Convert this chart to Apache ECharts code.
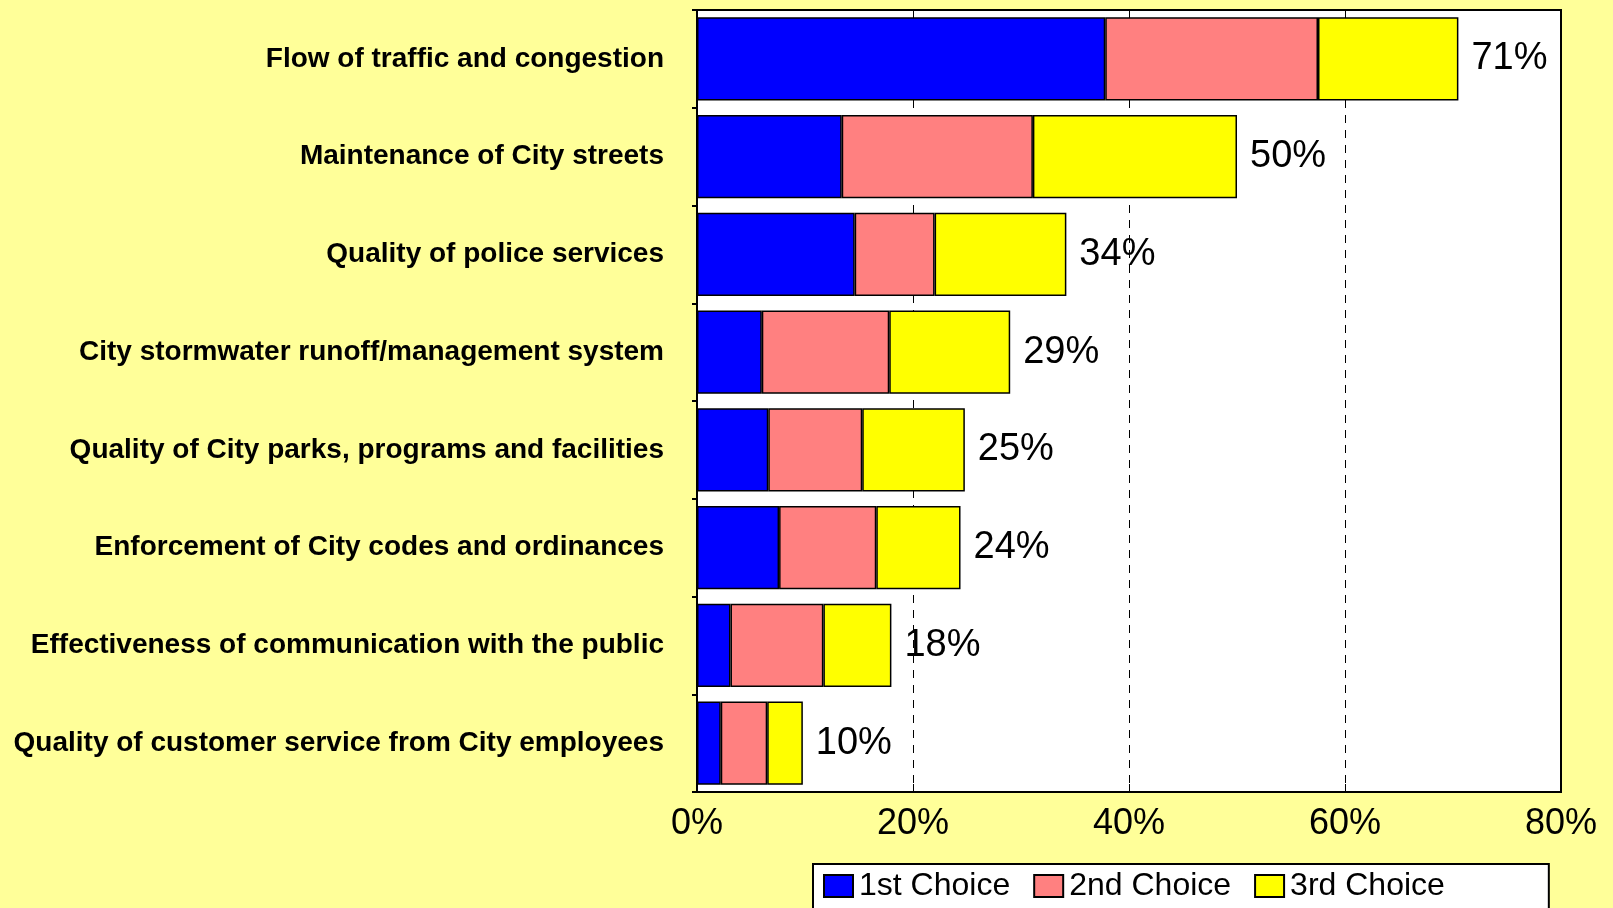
<!DOCTYPE html>
<html>
<head>
<meta charset="utf-8">
<script src="https://cdn.jsdelivr.net/npm/echarts@6/dist/echarts.min.js"></script>
<style>
  html, body { margin: 0; padding: 0; background: #FFFF99; }
  #chart { width: 1613px; height: 908px; }
</style>
</head>
<body>
<div id="chart"></div>
<script>
var categories = [
    'Flow of traffic and congestion',
    'Maintenance of City streets',
    'Quality of police services',
    'City stormwater runoff/management system',
    'Quality of City parks, programs and facilities',
    'Enforcement of City codes and ordinances',
    'Effectiveness of communication with the public',
    'Quality of customer service from City employees'
];
var firstChoice  = [37.8, 13.4, 14.6, 6.0, 6.6, 7.6, 3.1, 2.2];
var secondChoice = [19.7, 17.7, 7.4, 11.8, 8.7, 9.0, 8.6, 4.3];
var thirdChoice  = [13.0, 18.9, 12.2, 11.2, 9.5, 7.8, 6.3, 3.3];
var totals = [71, 50, 34, 29, 25, 24, 18, 10];
var xTicks = [0, 20, 40, 60, 80];

var chart = echarts.init(document.getElementById('chart'));

var font = 'Arial, "Liberation Sans", sans-serif';
var barBorder = { borderColor: '#000', borderWidth: 1.5 };

option = {
    backgroundColor: '#FFFF99',
    animation: false,
    grid: {
        left: 697, top: 10, width: 864, height: 782,
        show: true, backgroundColor: '#fff', borderColor: '#000', borderWidth: 2
    },
    legend: {
        left: 813, top: 864,
        padding: [6, 104, 12, 10],
        backgroundColor: '#fff', borderColor: '#000', borderWidth: 2, borderRadius: 0,
        icon: 'rect',
        itemWidth: 29, itemHeight: 22, itemGap: 23,
        textStyle: { fontFamily: font, fontSize: 32, color: '#000', padding: [2, 0, 0, 1] },
        data: ['1st Choice', '2nd Choice', '3rd Choice']
    },
    xAxis: {
        type: 'value', min: xTicks[0], max: xTicks[xTicks.length - 1], interval: 20,
        axisLine: { show: true, lineStyle: { color: '#000', width: 2 } },
        axisTick: { show: true, inside: true, length: 8, lineStyle: { color: '#000' } },
        axisLabel: { fontFamily: font, fontSize: 36, color: '#000', margin: 14, formatter: '{value}%' },
        splitLine: { show: true, lineStyle: { color: '#000', width: 1, type: [8, 7] } }
    },
    yAxis: {
        type: 'category', inverse: true, data: categories,
        axisLine: { show: true, lineStyle: { color: '#000', width: 2 } },
        axisTick: { show: true, length: 5, lineStyle: { color: '#000', width: 2 } },
        axisLabel: { fontFamily: font, fontSize: 28, fontWeight: 'bold', color: '#000', margin: 33, padding: [4, 0, 0, 0] }
    },
    series: [
        { name: '1st Choice', type: 'bar', stack: 'a', barCategoryGap: '15%',
          itemStyle: Object.assign({ color: '#0000FF' }, barBorder), data: firstChoice },
        { name: '2nd Choice', type: 'bar', stack: 'a',
          itemStyle: Object.assign({ color: '#FF8080' }, barBorder), data: secondChoice },
        { name: '3rd Choice', type: 'bar', stack: 'a',
          itemStyle: Object.assign({ color: '#FFFF00' }, barBorder), data: thirdChoice,
          label: {
              show: true, position: 'right', distance: 13,
              fontFamily: font, fontSize: 38, color: '#000', padding: [4, 0, 0, 0],
              formatter: function (p) { return totals[p.dataIndex] + '%'; }
          } }
    ]
};

chart.setOption(option);
</script>
</body>
</html>
